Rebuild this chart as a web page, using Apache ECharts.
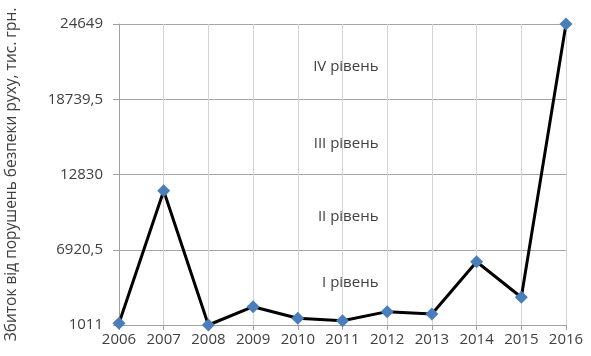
<!DOCTYPE html>
<html>
<head>
<meta charset="utf-8">
<script src="https://cdn.jsdelivr.net/npm/echarts@6/dist/echarts.min.js"></script>
<style>
  html, body { margin: 0; padding: 0; background: #fff; }
  #chart { width: 591px; height: 356px; }
</style>
</head>
<body>
<div id="chart"></div>
<script>
  // дані з рисунка
  const years = ["2006", "2007", "2008", "2009", "2010", "2011", "2012", "2013", "2014", "2015", "2016"];
  const losses = [1150, 11560, 1011, 2450, 1540, 1350, 2060, 1880, 5980, 3190, 24649];
  const yTicks = [1011, 6920.5, 12830, 18739.5, 24649];
  const levelNames = ["I рівень", "II рівень", "III рівень", "IV рівень"];
  const levelShift = [-5, 5, 7, 5];

  const textColor = "#404040";
  const font = "Open Sans";

  const chart = echarts.init(document.getElementById("chart"), null, { renderer: "canvas" });

  const levelAreas = levelNames.map((name, i) => [
    {
      yAxis: yTicks[i],
      label: { offset: [36, levelShift[i]] },
      name: name,
    },
    { yAxis: yTicks[i + 1] },
  ]);

  chart.setOption({
    animation: false,
    grid: { left: 119, right: 25, top: 24, bottom: 31, outerBoundsMode: "none", containLabel: false },
    xAxis: {
      type: "category",
      data: years,
      boundaryGap: false,
      axisLine: { lineStyle: { color: "#a0a0a0", width: 1 } },
      axisTick: { show: true, interval: 0, length: 5, lineStyle: { color: "#a0a0a0" } },
      axisLabel: { interval: 0, color: textColor, fontFamily: font, fontSize: 15, margin: 7 },
      splitLine: { show: true, interval: 0, lineStyle: { color: "#d4d4d4", width: 1 } },
    },
    yAxis: {
      type: "value",
      min: yTicks[0],
      max: yTicks[yTicks.length - 1],
      name: "Збиток від порушень безпеки руху, тис. грн.",
      nameLocation: "middle",
      nameGap: 99,
      nameTextStyle: { color: textColor, fontFamily: font, fontSize: 15.5 },
      axisLine: { show: true, lineStyle: { color: "#a0a0a0" } },
      axisTick: { show: true, length: 6, customValues: yTicks, lineStyle: { color: "#a0a0a0" } },
      axisLabel: {
        customValues: yTicks,
        color: textColor,
        fontFamily: font,
        fontSize: 15,
        margin: 16,
        formatter: (v) => String(v).replace(".", ","),
      },
      splitLine: { show: true, lineStyle: { color: "#a6a6a6", width: 1 } },
    },
    series: [
      {
        type: "line",
        data: losses,
        symbol: "diamond",
        symbolSize: 13,
        lineStyle: { color: "#000", width: 3 },
        itemStyle: { color: "#4a7ebb" },
        z: 3,
        markArea: {
          silent: true,
          itemStyle: { color: "rgba(0,0,0,0)" },
          label: {
            position: "inside",
            align: "right",
            color: textColor,
            fontFamily: font,
            fontSize: 15,
          },
          data: levelAreas,
        },
      },
    ],
  });
</script>
</body>
</html>
